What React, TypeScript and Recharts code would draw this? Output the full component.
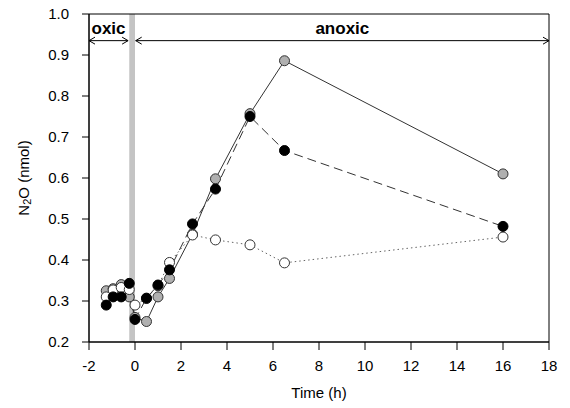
import {
  LineChart,
  Line,
  XAxis,
  YAxis,
  ReferenceArea,
  ReferenceLine,
  Label,
} from "recharts";

// sampling times (h), relative to the switch to anoxia
const times = [-1.25, -0.95, -0.6, -0.25, 0, 0.5, 1, 1.5, 2.5, 3.5, 5, 6.5, 16];

// N2O (nmol) per treatment
const grayVals = [0.325, 0.33, 0.34, 0.31, 0.26, 0.25, 0.31, 0.355, 0.463, 0.598, 0.757, 0.886, 0.61];
const whiteVals = [0.31, 0.327, 0.333, 0.328, 0.29, 0.306, 0.337, 0.394, 0.461, 0.449, 0.437, 0.393, 0.456];
const blackVals = [0.29, 0.31, 0.31, 0.343, 0.255, 0.307, 0.339, 0.376, 0.488, 0.573, 0.75, 0.667, 0.482];

const xTicks = [-2, 0, 2, 4, 6, 8, 10, 12, 14, 16, 18];
const yTicks = [0.2, 0.3, 0.4, 0.5, 0.6, 0.7, 0.8, 0.9, 1.0];

const data = times.map((t, i) => ({
  t,
  gray: grayVals[i],
  white: whiteVals[i],
  black: blackVals[i],
}));

const font = "'Liberation Sans', Arial, sans-serif";

const arrowShape = (text: string) => (props: any) => {
  const { x1, y1, x2, y2 } = props;
  const h = 6;
  const w = 3.5;
  return (
    <g>
      <line x1={x1} y1={y1} x2={x2} y2={y2} stroke="#000" strokeWidth={1} />
      <polyline
        points={`${x1 + h},${y1 - w} ${x1},${y1} ${x1 + h},${y1 + w}`}
        fill="none"
        stroke="#000"
        strokeWidth={1}
      />
      <polyline
        points={`${x2 - h},${y2 - w} ${x2},${y2} ${x2 - h},${y2 + w}`}
        fill="none"
        stroke="#000"
        strokeWidth={1}
      />
      <text
        x={(x1 + x2) / 2}
        y={y1 - 7}
        textAnchor="middle"
        fontSize={17}
        fontWeight="bold"
        fill="#000"
        fontFamily={font}
      >
        {text}
      </text>
    </g>
  );
};

const YTitle = (props: any) => {
  const vb = props.viewBox;
  const cx = vb.x + 23;
  const cy = vb.y + vb.height / 2;
  return (
    <text
      x={cx}
      y={cy}
      transform={`rotate(-90 ${cx} ${cy})`}
      textAnchor="middle"
      dominantBaseline="central"
      fontSize={15}
      fill="#000"
      fontFamily={font}
    >
      N
      <tspan dy={4} fontSize={11}>
        2
      </tspan>
      <tspan dy={-4}>O (nmol)</tspan>
    </text>
  );
};

export default function App() {
  return (
    <div style={{ position: "absolute", left: 0, top: 0, fontFamily: font }}>
      <LineChart
        width={570}
        height={408}
        data={data}
        margin={{ top: 14, right: 21, bottom: 6, left: 0 }}
      >
        <ReferenceArea x1={-0.25} x2={0} y1={0.2} y2={1.0} fill="#c4c4c4" fillOpacity={1} stroke="none" />
        <ReferenceArea x1={-2} x2={18} y1={0.2} y2={1.0} fill="none" stroke="#000" strokeWidth={1} />
        <XAxis
          dataKey="t"
          type="number"
          domain={[-2, 18]}
          ticks={xTicks}
          tickSize={8}
          tickMargin={10}
          height={60}
          stroke="#000"
          tick={{ fill: "#000", fontSize: 15 }}
          allowDataOverflow
        >
          <Label value="Time (h)" position="insideBottom" offset={4} fill="#000" fontSize={15} />
        </XAxis>
        <YAxis
          type="number"
          domain={[0.2, 1.0]}
          ticks={yTicks}
          tickFormatter={(v: number) => v.toFixed(1)}
          tickSize={7}
          tickMargin={13}
          width={89}
          stroke="#000"
          tick={{ fill: "#000", fontSize: 15 }}
          allowDataOverflow
          label={<YTitle />}
        />
        <ReferenceLine
          segment={[
            { x: -2, y: 0.935 },
            { x: -0.3, y: 0.935 },
          ]}
          shape={arrowShape("oxic")}
          ifOverflow="visible"
        />
        <ReferenceLine
          segment={[
            { x: 0.03, y: 0.935 },
            { x: 18, y: 0.935 },
          ]}
          shape={arrowShape("anoxic")}
          ifOverflow="visible"
        />
        <Line
          dataKey="gray"
          stroke="#333"
          strokeWidth={1}
          dot={{ r: 5, fill: "#b0b0b0", stroke: "#333", strokeWidth: 1 }}
          isAnimationActive={false}
        />
        <Line
          dataKey="white"
          stroke="#666"
          strokeWidth={1}
          strokeDasharray="1.5 3"
          dot={{ r: 5, fill: "#fff", stroke: "#333", strokeWidth: 1, strokeDasharray: "0" }}
          isAnimationActive={false}
        />
        <Line
          dataKey="black"
          stroke="#333"
          strokeWidth={1}
          strokeDasharray="9 5"
          dot={{ r: 5, fill: "#000", stroke: "#000", strokeWidth: 1, strokeDasharray: "0" }}
          isAnimationActive={false}
        />
      </LineChart>
    </div>
  );
}
